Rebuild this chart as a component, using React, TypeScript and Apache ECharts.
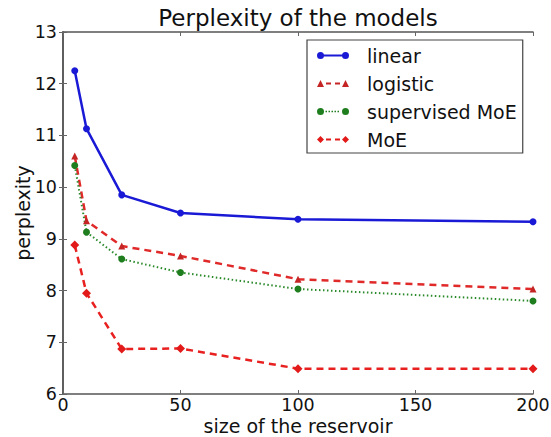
import React, { useEffect, useRef } from "react";
import * as echarts from "echarts";

const sizes = [5, 10, 25, 50, 100, 200];
const linear = [12.25, 11.13, 9.85, 9.5, 9.38, 9.33];
const logistic = [10.6, 9.35, 8.86, 8.67, 8.22, 8.03];
const supervisedMoE = [10.42, 9.13, 8.61, 8.35, 8.03, 7.8];
const moe = [8.88, 7.95, 6.87, 6.88, 6.49, 6.49];

const FONT = "DejaVu Sans";

const pairs = (ys: number[]) => sizes.map((x, i) => [x, ys[i]]);

// legend icons in a 32 x 7 box: marker, line pattern, marker (matplotlib style)
const circL = "M0,3.5 a3.5,3.5 0 1,1 7,0 a3.5,3.5 0 1,1 -7,0 Z";
const circR = "M25,3.5 a3.5,3.5 0 1,1 7,0 a3.5,3.5 0 1,1 -7,0 Z";
const triL = "M0,7 L3.5,0 L7,7 Z";
const triR = "M25,7 L28.5,0 L32,7 Z";
const diaL = "M0,3.5 L3.5,0 L7,3.5 L3.5,7 Z";
const diaR = "M25,3.5 L28.5,0 L32,3.5 L28.5,7 Z";
const solid = "M6.5,2.5 L25.5,2.5 L25.5,4.5 L6.5,4.5 Z";
const dashes = "M9,2.5 L14,2.5 L14,4.5 L9,4.5 Z M18,2.5 L23,2.5 L23,4.5 L18,4.5 Z";
const dots =
  "M8.5,2.8 L10,2.8 L10,4.2 L8.5,4.2 Z M11.5,2.8 L13,2.8 L13,4.2 L11.5,4.2 Z M14.5,2.8 L16,2.8 L16,4.2 L14.5,4.2 Z M17.5,2.8 L19,2.8 L19,4.2 L17.5,4.2 Z M20.5,2.8 L22,2.8 L22,4.2 L20.5,4.2 Z";

export default function App() {
  const ref = useRef<HTMLDivElement>(null);
  useEffect(() => {
    const chart = echarts.init(ref.current!, null, { renderer: "svg" });
    const axisCommon = {
      axisLine: { show: true, lineStyle: { color: "#555", width: 1.5 } },
      axisTick: { show: true, inside: true, length: 4, lineStyle: { color: "#666" } },
      splitLine: { show: false },
      nameMoveOverlap: false,
    };
    chart.setOption({
      animation: false,
      backgroundColor: "#fff",
      textStyle: { fontFamily: FONT },
      title: {
        text: "Perplexity of the models",
        left: 298,
        textAlign: "center",
        top: 6,
        padding: 0,
        textStyle: { fontFamily: FONT, fontSize: 23, fontWeight: "normal", color: "#111" },
      },
      grid: { left: 63, top: 32, right: 18, bottom: 43, outerBoundsMode: "none", containLabel: false },
      legend: {
        orient: "vertical",
        left: 307,
        top: 40,
        padding: [6, 6, 4, 10],
        itemGap: 9,
        itemWidth: 32,
        itemHeight: 7,
        borderColor: "#444",
        borderWidth: 1.2,
        backgroundColor: "#fff",
        textStyle: { fontFamily: FONT, fontSize: 19, color: "#111", padding: [0, 0, 0, 13] },
        data: [
          { name: "linear", icon: "path://" + circL + " " + solid + " " + circR },
          { name: "logistic", icon: "path://" + triL + " " + dashes + " " + triR },
          { name: "supervised MoE", icon: "path://" + circL + " " + dots + " " + circR },
          { name: "MoE", icon: "path://" + diaL + " " + dashes + " " + diaR },
        ],
      },
      xAxis: [
        {
          type: "value",
          min: 0,
          max: 200,
          interval: 50,
          name: "size of the reservoir",
          nameLocation: "middle",
          nameGap: 22,
          nameTextStyle: { fontFamily: FONT, fontSize: 19, lineHeight: 19, color: "#111" },
          axisLabel: { fontFamily: FONT, fontSize: 17.5, lineHeight: 16, color: "#111", margin: 3 },
          ...axisCommon,
        },
        {
          type: "value",
          position: "top",
          min: 0,
          max: 200,
          interval: 50,
          axisLabel: { show: false },
          ...axisCommon,
        },
      ],
      yAxis: [
        {
          type: "value",
          min: 6,
          max: 13,
          interval: 1,
          name: "perplexity",
          nameLocation: "middle",
          nameGap: 31,
          nameTextStyle: { fontFamily: FONT, fontSize: 19, lineHeight: 19, color: "#111" },
          axisLabel: { fontFamily: FONT, fontSize: 17.5, lineHeight: 17, color: "#111", margin: 6 },
          ...axisCommon,
        },
        {
          type: "value",
          position: "right",
          min: 6,
          max: 13,
          interval: 1,
          axisLabel: { show: false },
          ...axisCommon,
        },
      ],
      series: [
        {
          name: "linear",
          type: "line",
          data: pairs(linear),
          color: "#1a1ad6",
          symbol: "circle",
          symbolSize: 7,
          lineStyle: { width: 2.5, color: "#1a1ad6" },
          itemStyle: { color: "#1a1ad6" },
        },
        {
          name: "logistic",
          type: "line",
          data: pairs(logistic),
          color: "#cc2424",
          symbol: "triangle",
          symbolSize: 7,
          lineStyle: { width: 2.5, type: [7, 5], color: "#e02a2a" },
          itemStyle: { color: "#c42424" },
        },
        {
          name: "supervised MoE",
          type: "line",
          data: pairs(supervisedMoE),
          color: "#1e7e1e",
          symbol: "circle",
          symbolSize: 7,
          lineStyle: { width: 2, type: [1.5, 2.5], color: "#2a8a2a" },
          itemStyle: { color: "#1e7e1e" },
        },
        {
          name: "MoE",
          type: "line",
          data: pairs(moe),
          color: "#e21a1a",
          symbol: "diamond",
          symbolSize: 9,
          lineStyle: { width: 2.5, type: [7, 5], color: "#e82020" },
          itemStyle: { color: "#e21a1a" },
        },
      ],
    });
    return () => chart.dispose();
  }, []);
  return (
    <div
      ref={ref}
      style={{ position: "fixed", left: 0, top: 0, width: 551, height: 437 }}
    />
  );
}
